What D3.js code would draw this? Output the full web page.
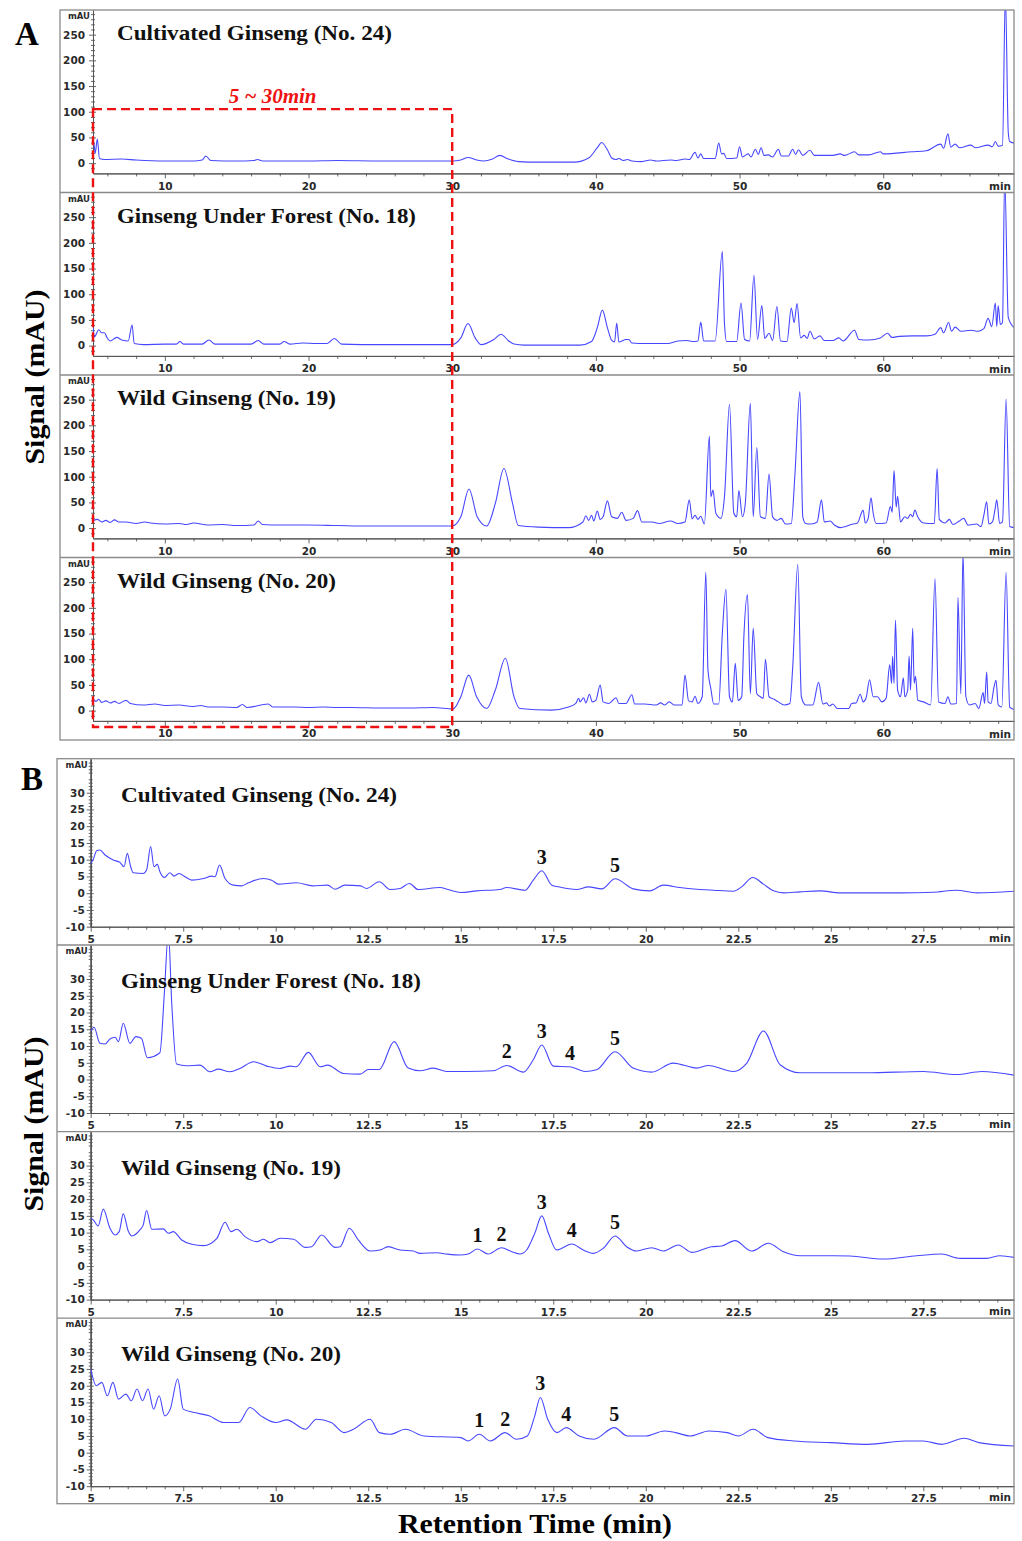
<!DOCTYPE html>
<html>
<head>
<meta charset="utf-8">
<script src="https://cdn.jsdelivr.net/npm/d3@7"></script>
<style>
  body { margin: 0; background: #fff; }
  svg text { font-family: "DejaVu Sans", Arial, sans-serif; }
  .serif { font-family: "Liberation Serif", "Times New Roman", serif !important; font-weight: bold; }
</style>
</head>
<body>
<svg id="chart" width="1022" height="1541"></svg>
<script>
// ---------- tick labels ----------
var aXTicks = [10, 20, 30, 40, 50, 60];
var aYTicks = [0, 50, 100, 150, 200, 250];
var bXTicks = [5, 7.5, 10, 12.5, 15, 17.5, 20, 22.5, 25, 27.5];
var bYTicks = [-10, -5, 0, 5, 10, 15, 20, 25, 30];

var sampleNames = ["Cultivated Ginseng (No. 24)", "Ginseng Under Forest (No. 18)",
                   "Wild Ginseng (No. 19)", "Wild Ginseng (No. 20)"];

// ---------- panel A: full run, [time (min), signal (mAU)] ----------
var cultA = [[5.0,39],[5.05,41],[5.15,19],[5.3,47],[5.45,9],[5.8,7],[7,8],[8,6],[10,4],[12,4],[12.6,6],[12.85,14],[13.2,5],[15,4],[16.2,5],[16.45,7],[16.8,4],[20,4],[22,5],[25,4],[28,4],[30,4],[30.6,6],[31.1,11],[31.7,6],[32.2,4],[32.8,8],[33.3,15],[33.9,8],[34.6,3],[36,2],[38.5,2],[39.5,10],[40.1,30],[40.4,40],[40.8,26],[41.1,10],[41.4,7],[41.6,9],[41.9,5],[42.2,7],[42.5,4],[43.2,3],[43.8,6],[44.2,4],[45.2,6],[45.6,5],[46.2,8],[46.5,7],[46.9,21],[47.1,10],[47.3,18],[47.5,9],[48.3,9],[48.55,39],[48.75,18],[48.9,19],[49.1,9],[49.8,10],[50.0,32],[50.2,12],[50.6,18],[50.8,12],[51.1,27],[51.3,17],[51.5,30],[51.7,15],[52.0,16],[52.3,12],[52.7,27],[52.9,14],[53.4,14],[53.7,27],[53.9,17],[54.1,26],[54.4,15],[54.9,25],[55.2,15],[56.5,15],[57.0,18],[57.3,15],[58.0,22],[58.3,16],[59.0,16],[59.8,22],[60,18],[62,22],[63,24],[64,37],[64.2,29],[64.5,57],[64.7,31],[65.0,37],[65.3,30],[66.1,35],[66.4,30],[67.3,35],[67.6,32],[67.8,42],[68.0,33],[68.3,35],[68.5,330],[68.7,60],[68.8,42],[69.1,39]];

var forestA = [[5.0,37],[5.1,17],[5.4,31],[5.6,25],[5.8,25],[5.95,17],[6.2,9],[6.65,16],[7.0,11],[7.45,9],[7.72,40],[7.87,4],[8.5,2],[10,3],[10.8,3],[11.05,8],[11.3,3],[12.6,3],[13.07,11],[13.5,3],[16,3],[16.5,10],[16.9,3],[18.0,3],[18.3,8],[18.7,3],[19.6,5],[20.5,4],[21.3,4],[21.8,14],[22.3,3],[25,2],[28,2],[30,2],[30.6,15],[31.1,43],[31.6,15],[32.0,2],[32.9,12],[33.4,22],[33.9,10],[34.3,3],[35,1],[38.9,1],[39.7,8],[40.1,35],[40.45,69],[40.8,35],[41.1,10],[41.3,7],[41.45,44],[41.6,7],[42.1,12],[42.3,12],[42.5,5],[43.5,4],[45,4],[45.7,9],[46.3,10],[46.8,8],[47.1,9],[47.3,46],[47.5,9],[48.3,9],[48.8,183],[48.95,43],[49.1,8],[49.8,8],[50.1,83],[50.35,12],[50.7,9],[51.0,137],[51.25,12],[51.55,78],[51.75,14],[52.05,24],[52.3,10],[52.6,76],[52.85,9],[53.3,8],[53.6,73],[53.8,45],[54.0,82],[54.25,15],[54.5,20],[54.7,14],[54.9,28],[55.2,13],[55.6,19],[55.9,10],[56.5,10],[56.9,15],[57.2,9],[58.0,30],[58.3,12],[59.0,11],[59.8,15],[60.3,24],[60.6,16],[61.1,18],[62,19],[63,19],[63.6,22],[64.0,35],[64.2,25],[64.55,45],[64.75,28],[65.0,36],[65.4,28],[66.1,30],[66.6,28],[67.0,33],[67.3,53],[67.55,37],[67.8,83],[67.9,37],[68.0,78],[68.15,41],[68.3,45],[68.45,330],[68.7,55],[69.1,35]];

var wild19A = [[5,14],[5.3,17],[5.6,12],[5.9,15],[6.2,11],[6.5,16],[6.8,12],[7.3,12],[8,9],[8.6,12],[9.0,10],[10,8],[11,9],[11.5,7],[12,10],[13,6],[14,7],[15,5],[16.2,6],[16.5,14],[16.8,7],[18,6],[20,6],[22,5],[24,4],[26,4],[28,4],[30,4],[30.6,22],[31.17,76],[31.74,22],[32.4,4],[33.0,48],[33.6,116],[34.2,48],[34.6,5],[36,2],[38.1,1],[39.1,12],[39.3,24],[39.5,15],[39.7,25],[39.85,14],[40.1,33],[40.3,17],[40.5,22],[40.8,53],[41.1,22],[41.5,19],[41.8,31],[42.1,15],[42.6,19],[42.9,34],[43.2,12],[43.9,12],[44.4,9],[45.2,14],[45.7,9],[46.2,12],[46.5,55],[46.7,18],[46.9,25],[47.1,17],[47.3,23],[47.55,8],[47.9,179],[48.0,61],[48.15,74],[48.35,29],[48.7,19],[48.95,61],[49.3,241],[49.6,29],[49.8,22],[49.95,73],[50.2,22],[50.4,48],[50.75,243],[50.95,22],[51.2,157],[51.45,22],[51.8,19],[52.05,105],[52.3,22],[52.6,15],[52.9,19],[53.2,8],[53.6,9],[53.85,103],[54.2,266],[54.4,22],[54.6,9],[55.0,8],[55.4,12],[55.7,55],[55.9,12],[56.3,14],[56.6,6],[57.0,1],[57.9,8],[58.2,10],[58.6,35],[58.75,10],[58.95,19],[59.15,59],[59.3,29],[59.5,9],[60.2,10],[60.5,42],[60.62,31],[60.75,112],[60.9,41],[61.0,62],[61.2,12],[61.5,22],[61.7,19],[61.9,27],[62.05,22],[62.2,35],[62.4,22],[62.8,10],[63.55,9],[63.75,116],[63.9,17],[64.3,10],[64.6,17],[64.85,7],[65.3,14],[65.6,19],[65.9,6],[66.5,8],[66.8,3],[67.0,25],[67.2,51],[67.35,8],[67.6,12],[67.8,40],[67.9,55],[68.1,9],[68.3,12],[68.55,251],[68.8,3],[69.1,1]];

var wild20A = [[5,24],[5.2,18],[5.4,22],[5.6,16],[5.9,19],[6.2,15],[6.5,18],[6.8,14],[7.3,20],[7.6,14],[8.5,11],[9.3,13],[10,10],[11,11],[11.9,8],[12.5,10],[13,7],[14,7],[15,6],[15.4,12],[15.7,6],[17.2,13],[17.5,7],[19,7],[20,6],[21,7],[22,6],[23,6],[25,5],[27,5],[28.7,6],[30.05,3],[30.6,27],[31.15,69],[31.7,27],[32.4,4],[33.0,40],[33.7,102],[34.3,27],[34.7,4],[36.9,1],[38.1,7],[38.6,14],[38.8,24],[38.9,17],[39.15,25],[39.3,15],[39.55,32],[39.75,17],[40.0,20],[40.3,50],[40.5,17],[40.9,14],[41.4,25],[41.6,14],[42.1,14],[42.5,31],[42.7,13],[43.4,13],[44.2,11],[44.5,15],[44.8,11],[45.1,17],[45.45,11],[46.0,11],[46.2,69],[46.45,19],[46.7,17],[46.9,28],[47.1,14],[47.4,27],[47.65,269],[47.8,79],[48.0,43],[48.2,13],[48.55,13],[48.8,150],[49.05,236],[49.3,27],[49.5,17],[49.7,92],[49.9,20],[50.15,27],[50.3,144],[50.55,226],[50.75,33],[50.95,160],[51.2,33],[51.45,27],[51.65,24],[51.8,100],[52.05,27],[52.4,22],[52.7,17],[53.1,11],[53.5,14],[53.7,85],[54.05,285],[54.3,27],[54.6,11],[55.1,11],[55.5,55],[55.8,13],[56.05,15],[56.25,9],[56.5,13],[56.8,4],[57.6,4],[57.8,14],[58.1,15],[58.4,32],[58.6,17],[58.8,24],[59.05,60],[59.3,27],[59.6,27],[59.9,17],[60.2,24],[60.45,89],[60.58,53],[60.65,106],[60.75,53],[60.85,176],[61.0,40],[61.2,27],[61.4,64],[61.5,27],[61.7,40],[61.8,106],[61.9,40],[62.05,160],[62.15,53],[62.25,67],[62.4,20],[62.8,17],[63.3,11],[63.6,257],[63.85,17],[64.3,14],[64.5,27],[64.7,13],[65.1,14],[65.2,220],[65.4,33],[65.55,310],[65.75,27],[66.0,11],[66.4,14],[66.65,4],[66.95,35],[67.05,14],[67.2,75],[67.3,17],[67.5,14],[67.7,45],[67.85,59],[68.0,11],[68.25,7],[68.55,269],[68.8,7],[69.1,2]];

// ---------- panel B: 5-30 min zoom, [time (min), signal (mAU)] ----------
var cultB = [[5.0,8.9],[5.07,10.1],[5.16,12.7],[5.25,12.9],[5.39,11.4],[5.61,9.9],[5.79,9.2],[5.9,7.9],[5.99,11.9],[6.08,7.9],[6.15,6.1],[6.42,5.9],[6.51,6.9],[6.62,13.9],[6.71,7.9],[6.8,8.6],[6.87,6.4],[6.99,4.7],[7.14,6.1],[7.25,5.1],[7.39,5.9],[7.55,4.9],[7.73,3.9],[8.05,4.4],[8.27,5.1],[8.36,4.9],[8.48,8.4],[8.63,4.4],[8.86,2.4],[9.08,2.2],[9.26,3.1],[9.67,4.4],[9.89,3.9],[10.07,2.7],[10.56,3.1],[11.0,2.2],[11.4,2.4],[11.6,1.2],[11.87,2.4],[12.3,2.2],[12.45,1.4],[12.8,3.4],[13.09,1.1],[13.36,1.4],[13.61,2.9],[13.85,1.1],[14.44,1.7],[14.66,1.1],[15.0,0.2],[15.43,0.7],[16.06,1.1],[16.24,1.7],[16.74,0.9],[16.96,3.9],[17.19,6.7],[17.46,2.4],[17.64,1.9],[18.13,1.1],[18.45,1.9],[18.81,1.3],[19.17,4.3],[19.66,1.3],[20.11,0.7],[20.47,2.4],[20.92,1.7],[21.38,1.2],[21.83,0.9],[22.37,0.6],[22.59,1.9],[22.89,4.7],[23.18,2.7],[23.45,0.7],[23.72,0.1],[24.17,0.4],[24.71,0.7],[25.25,0.1],[25.97,0.1],[26.87,0.1],[27.77,0.3],[28.4,0.9],[28.94,0.1],[29.95,0.6]];

var forestB = [[5.0,14.3],[5.09,15.6],[5.25,10.8],[5.39,10.6],[5.52,12.1],[5.66,12.6],[5.75,11.3],[5.88,16.8],[6.06,10.8],[6.22,12.8],[6.37,12.3],[6.53,6.5],[6.87,8.0],[6.99,25.7],[7.1,44],[7.19,22.7],[7.32,4.6],[7.59,4.1],[7.95,4.3],[8.22,2.3],[8.45,3.1],[8.76,2.3],[9.03,3.3],[9.4,5.3],[9.76,4.0],[10.11,3.3],[10.39,4.0],[10.56,3.8],[10.88,8.1],[11.2,3.8],[11.4,4.3],[11.83,1.8],[12.28,1.6],[12.5,3.0],[12.8,3.0],[13.2,11.3],[13.58,3.4],[13.9,2.6],[14.26,3.4],[14.62,2.4],[15.16,2.4],[15.88,2.6],[16.24,4.2],[16.69,2.2],[16.96,5.9],[17.19,10.3],[17.5,4.0],[17.95,3.8],[18.36,2.4],[18.67,2.9],[19.17,8.3],[19.66,3.4],[20.16,2.2],[20.74,4.9],[21.38,3.4],[21.69,4.2],[22.37,2.4],[22.73,4.9],[23.18,14.5],[23.63,4.4],[24.17,2.0],[25.07,2.0],[25.97,2.0],[27.5,2.4],[28.4,1.5],[29.08,2.4],[29.95,1.3]];

var wild19B = [[5.0,14.3],[5.07,13.8],[5.2,12.0],[5.34,17.0],[5.52,11.3],[5.66,9.3],[5.77,10.3],[5.88,15.6],[6.02,10.3],[6.11,9.0],[6.33,10.8],[6.42,12.3],[6.51,16.6],[6.65,11.0],[6.96,11.1],[7.1,9.8],[7.23,10.3],[7.46,7.8],[7.73,6.5],[8.05,6.1],[8.41,8.3],[8.63,13.1],[8.79,10.3],[8.95,11.0],[9.17,8.8],[9.49,7.3],[9.67,8.0],[9.85,7.0],[10.12,8.3],[10.48,8.0],[10.8,5.6],[10.97,5.8],[11.24,9.3],[11.6,5.6],[11.74,5.8],[11.99,11.3],[12.23,7.8],[12.55,4.5],[12.82,4.8],[13.04,5.8],[13.36,4.8],[13.72,4.5],[13.9,3.8],[14.35,4.0],[14.62,3.6],[14.98,3.3],[15.2,3.6],[15.45,5.1],[15.74,3.6],[16.1,5.5],[16.38,4.3],[16.6,3.6],[16.78,4.8],[17.0,9.8],[17.19,15.0],[17.37,9.8],[17.59,4.8],[18.0,6.6],[18.31,4.8],[18.58,3.8],[18.85,5.3],[19.17,9.0],[19.48,5.8],[19.75,4.5],[20.16,5.5],[20.47,4.5],[20.88,6.3],[21.24,4.1],[21.78,5.8],[22.05,6.0],[22.41,7.6],[22.86,4.5],[23.31,6.8],[23.72,4.3],[24.17,3.1],[25.07,3.1],[25.52,3.0],[26.42,2.1],[27.32,3.1],[27.99,3.6],[28.49,2.3],[29.21,2.3],[29.57,3.1],[29.95,2.6]];

var wild20B = [[5.0,25],[5.15,20],[5.3,21],[5.45,17],[5.6,21],[5.75,16],[5.95,17.5],[6.1,15.5],[6.25,19],[6.4,15.5],[6.55,19],[6.7,13],[6.85,17],[7.0,11],[7.15,13],[7.35,22],[7.5,13],[7.8,12],[8.2,11],[8.6,9],[9.0,9],[9.3,13.5],[9.6,11],[10.0,9],[10.3,9.8],[10.8,7.0],[11.1,10],[11.5,9],[11.85,6],[12.1,7],[12.55,10],[12.8,6],[13.1,5.5],[13.5,7],[14,5],[15,4.5],[15.2,3.5],[15.5,5.5],[15.8,3.5],[16.2,6],[16.5,4],[16.8,5],[17.0,11],[17.15,16.5],[17.35,10],[17.6,6],[17.85,7.5],[18.2,5],[18.6,4],[19.15,7.5],[19.5,5],[20,5],[20.5,6.5],[20.8,6],[21.2,5],[21.7,6.5],[22.2,6],[22.5,5],[22.9,7],[23.3,4.5],[24,3.5],[25,3],[26,2.5],[27,3.5],[27.5,3.5],[28,2.5],[28.6,4.3],[29,3],[29.95,2]];

// ---------- numbered peaks in panel B: [label, time] ----------
var peaksCult = [["3", 17.19], ["5", 19.17]];
var peaksForest = [["2", 16.24], ["3", 17.19], ["4", 17.95], ["5", 19.17]];
var peaksWild19 = [["1", 15.45], ["2", 16.1], ["3", 17.19], ["4", 18.0], ["5", 19.17]];
var peaksWild20 = [["1", 15.5], ["2", 16.2], ["3", 17.15], ["4", 17.85], ["5", 19.15]];

var zoomWindow = [5, 30];   // red box, minutes
var zoomTopSignal = 105;    // top of red box in first chromatogram (mAU)

// ---------- drawing ----------
var svg = d3.select("#chart");
var defs = svg.append("defs");
var traceColor = "#4747ff";
var axisColor = "#555";
var frameColor = "#8a8a8a";
var titleWidths = [275, 299, 219, 219];

var xA = d3.scaleLinear().domain([5, 69.1]).range([93, 1014]);
var xB = d3.scaleLinear().domain([5, 29.95]).range([90.7, 1014]);

var aTops = [10, 192.5, 375, 557.5];
var bTops = [758.7, 945, 1131.6, 1318.2];

function drawRow(o) {
  var x = o.x, x0 = x.range()[0], x1 = x.range()[1];
  var y = d3.scaleLinear().domain(o.yDomain).range([o.top + o.plotH, o.top]);
  var g = svg.append("g");
  var fmt = function (d) { return String(d); };   // plain hyphen for negatives

  defs.append("clipPath").attr("id", "clip-" + o.id)
    .append("rect").attr("x", x0).attr("y", o.top).attr("width", x1 - x0).attr("height", o.plotH);

  // y axis: minor ticks (both sides), major ticks + labels
  g.append("g").attr("transform", "translate(" + x0 + ",0)")
    .call(d3.axisLeft(y).tickValues(o.yMinor).tickSize(2).tickSizeOuter(0).tickFormat(""));
  g.append("g").attr("transform", "translate(" + x0 + ",0)")
    .call(d3.axisLeft(y).tickValues(o.yMinor).tickSize(-2).tickSizeOuter(0).tickFormat(""));
  var ya = g.append("g").attr("transform", "translate(" + x0 + ",0)")
    .call(d3.axisLeft(y).tickValues(o.yMajor).tickSize(4).tickSizeOuter(0).tickPadding(o.yPad).tickFormat(fmt));
  g.append("g").attr("transform", "translate(" + x0 + ",0)")
    .call(d3.axisLeft(y).tickValues(o.yMajor).tickSize(-3).tickSizeOuter(0).tickFormat(""));
  ya.selectAll("text").style("font-size", o.tickFont).style("font-weight", "bold").attr("fill", "#2a2a2a");

  // x axis
  var xBase = o.top + o.plotH;
  g.append("g").attr("transform", "translate(0," + xBase + ")")
    .call(d3.axisBottom(x).tickValues(o.xMinor).tickSize(3).tickSizeOuter(0).tickFormat(""));
  var xa = g.append("g").attr("transform", "translate(0," + xBase + ")")
    .call(d3.axisBottom(x).tickValues(o.xMajor).tickSize(5).tickSizeOuter(0).tickPadding(o.xPad).tickFormat(fmt));
  xa.selectAll("text").style("font-size", o.tickFont).style("font-weight", "bold").attr("fill", "#2a2a2a");

  g.selectAll(".domain").attr("stroke", axisColor).attr("stroke-width", 1);
  g.selectAll(".tick line").attr("stroke", axisColor).attr("stroke-width", 0.9);

  g.append("text").attr("x", 1011).attr("y", xBase + o.minDy).attr("text-anchor", "end")
    .style("font-size", o.tickFont).style("font-weight", "bold").attr("fill", "#2a2a2a").text("min");
  g.append("text").attr("x", x0 - 3).attr("y", o.top + 9).attr("text-anchor", "end")
    .style("font-size", "8.5px").style("font-weight", "bold").attr("fill", "#2a2a2a").text("mAU");

  // trace
  var line = d3.line().x(function (d) { return x(d[0]); }).y(function (d) { return y(d[1]); })
    .curve(d3.curveMonotoneX);
  g.append("path").datum(o.data).attr("clip-path", "url(#clip-" + o.id + ")")
    .attr("d", line).attr("fill", "none").attr("stroke", traceColor).attr("stroke-width", 1.1);

  // sample title
  g.append("text").attr("class", "serif").attr("x", o.titleX).attr("y", o.top + o.titleDy)
    .style("font-size", "22px").attr("fill", "#111")
    .attr("textLength", o.titleW).attr("lengthAdjust", "spacingAndGlyphs").text(o.title);

  // numbered peaks
  (o.peaks || []).forEach(function (p) {
    var near = o.data.filter(function (d) { return Math.abs(d[0] - p[1]) < 0.2; });
    var apex = d3.max(near, function (d) { return d[1]; });
    g.append("text").attr("class", "serif").attr("x", x(p[1])).attr("y", y(apex) - 7)
      .attr("text-anchor", "middle").style("font-size", "20px").attr("fill", "#111").text(p[0]);
  });
  return y;
}

// ----- panel A -----
var aData = [cultA, forestA, wild19A, wild20A];
var aYs = aData.map(function (d, i) {
  return drawRow({
    id: "a" + i, x: xA, top: aTops[i], plotH: 163.4, yDomain: [-20, 298],
    yMajor: aYTicks, yMinor: d3.range(-10, 300, 10).filter(function (v) { return v % 50; }),
    xMajor: aXTicks, xMinor: d3.range(6, 69, 2).filter(function (v) { return v % 10; }),
    yPad: 4, xPad: 4, minDy: 17, tickFont: "10.5px",
    data: d, title: sampleNames[i], titleX: 117, titleDy: 30, titleW: titleWidths[i]
  });
});

// ----- panel B -----
var bData = [cultB, forestB, wild19B, wild20B];
var bPeaks = [peaksCult, peaksForest, peaksWild19, peaksWild20];
bData.forEach(function (d, i) {
  drawRow({
    id: "b" + i, x: xB, top: bTops[i], plotH: 168, yDomain: [-10, 40.15],
    yMajor: bYTicks, yMinor: d3.range(-9, 41, 1).filter(function (v) { return v % 5; }),
    xMajor: bXTicks, xMinor: d3.range(5.5, 30, 0.5).filter(function (v) { return v % 2.5; }),
    yPad: 2, xPad: 3.5, minDy: 15, tickFont: "10.5px",
    data: d, title: sampleNames[i], titleX: 121, titleDy: 43, titleW: titleWidths[i] + 1, peaks: bPeaks[i]
  });
});

// frames and row separators
svg.append("rect").attr("x", 60).attr("y", 10).attr("width", 954).attr("height", 730)
  .attr("fill", "none").attr("stroke", frameColor).attr("stroke-width", 1.3);
aTops.slice(1).forEach(function (t) {
  svg.append("line").attr("x1", 60).attr("x2", 1014).attr("y1", t).attr("y2", t)
    .attr("stroke", frameColor).attr("stroke-width", 1.3);
});
svg.append("rect").attr("x", 57).attr("y", 758.7).attr("width", 957).attr("height", 745)
  .attr("fill", "none").attr("stroke", frameColor).attr("stroke-width", 1.3);
bTops.slice(1).forEach(function (t) {
  svg.append("line").attr("x1", 57).attr("x2", 1014).attr("y1", t).attr("y2", t)
    .attr("stroke", frameColor).attr("stroke-width", 1.3);
});

// red dashed window 5~30 min
var boxTop = aYs[0](zoomTopSignal);
var boxBottom = aTops[3] + 169.5;
svg.append("rect").attr("x", xA(zoomWindow[0])).attr("y", boxTop)
  .attr("width", xA(zoomWindow[1]) - xA(zoomWindow[0])).attr("height", boxBottom - boxTop)
  .attr("fill", "none").attr("stroke", "#ee1111").attr("stroke-width", 2.4)
  .attr("stroke-dasharray", "9,5");
svg.append("text").attr("class", "serif").attr("x", (xA(zoomWindow[0]) + xA(zoomWindow[1])) / 2)
  .attr("y", boxTop - 6).attr("text-anchor", "middle").style("font-size", "21px")
  .style("font-style", "italic").attr("fill", "#ee1111").text(zoomWindow[0] + " ~ " + zoomWindow[1] + "min");

// panel letters and axis titles
svg.append("text").attr("class", "serif").attr("x", 15).attr("y", 45).style("font-size", "33px").text("A");
svg.append("text").attr("class", "serif").attr("x", 21).attr("y", 790).style("font-size", "33px").text("B");
[[44, 377], [43, 1124]].forEach(function (p) {
  svg.append("text").attr("class", "serif").attr("transform", "translate(" + p[0] + "," + p[1] + ") rotate(-90)")
    .attr("text-anchor", "middle").style("font-size", "28px")
    .attr("textLength", 175).attr("lengthAdjust", "spacingAndGlyphs").text("Signal (mAU)");
});
svg.append("text").attr("class", "serif").attr("x", 535).attr("y", 1533).attr("text-anchor", "middle")
  .style("font-size", "27px").attr("textLength", 274).attr("lengthAdjust", "spacingAndGlyphs")
  .text("Retention Time (min)");
</script>
</body>
</html>
